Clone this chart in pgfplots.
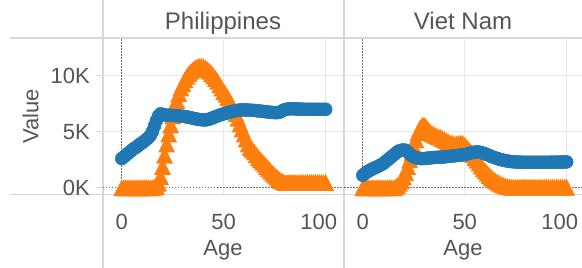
\documentclass[border=0pt]{standalone}
\usepackage{pgfplots}
\pgfplotsset{compat=1.18}
\usepackage{pgfplotstable}
\usepackage{fontspec}
\setmainfont{Liberation Sans}
\definecolor{txt}{RGB}{85,85,85}
\definecolor{frame}{RGB}{215,215,215}
\definecolor{grd}{RGB}{232,232,232}
\definecolor{dotc}{RGB}{110,110,110}
\definecolor{cblue}{RGB}{31,119,180}
\definecolor{corange}{RGB}{255,127,14}
\pgfdeclareplotmark{tri}{%
  \pgfpathmoveto{\pgfqpoint{0pt}{\pgfplotmarksize}}%
  \pgfpathlineto{\pgfqpoint{-\pgfplotmarksize}{-\pgfplotmarksize}}%
  \pgfpathlineto{\pgfqpoint{\pgfplotmarksize}{-\pgfplotmarksize}}%
  \pgfpathclose\pgfusepathqfill}
\newcommand{\fs}{\fontsize{22}{26}\selectfont}
\newcommand{\ft}{\fontsize{24}{28}\selectfont}

\pgfplotstableread{
age o b
0 0 2.6
1 0 2.75
2 0 2.9
3 0 3.05
4 0 3.2
5 0 3.35
6 0 3.5
7 0 3.6
8 0 3.75
9 0 3.9
10 0 4.0
11 0 4.15
12 0 4.3
13 0 4.45
14 0 4.65
15 0 5.0
16 0.05 5.5
17 0.1 6.0
18 0.4 6.4
19 1.0 6.6
20 1.9 6.55
21 2.9 6.5
22 3.9 6.48
23 4.8 6.47
24 5.6 6.46
25 6.4 6.45
26 7.1 6.44
27 7.8 6.43
28 8.4 6.42
29 8.9 6.4
30 9.3 6.38
31 9.65 6.35
32 9.95 6.32
33 10.2 6.28
34 10.4 6.24
35 10.55 6.2
36 10.7 6.16
37 10.8 6.12
38 10.85 6.09
39 10.85 6.07
40 10.8 6.05
41 10.7 6.05
42 10.55 6.08
43 10.4 6.13
44 10.2 6.2
45 10.0 6.27
46 9.75 6.34
47 9.5 6.41
48 9.2 6.48
49 8.9 6.54
50 8.6 6.6
51 8.35 6.65
52 8.05 6.7
53 7.75 6.75
54 7.4 6.8
55 7.0 6.84
56 6.6 6.88
57 6.2 6.92
58 5.7 6.94
59 5.25 6.95
60 4.8 6.95
61 4.35 6.94
62 3.9 6.93
63 3.6 6.92
64 3.4 6.91
65 3.2 6.9
66 2.95 6.88
67 2.7 6.86
68 2.5 6.84
69 2.3 6.82
70 2.1 6.8
71 1.9 6.78
72 1.7 6.76
73 1.5 6.74
74 1.3 6.72
75 1.12 6.7
76 0.95 6.7
77 0.8 6.72
78 0.65 6.8
79 0.55 6.9
80 0.47 6.97
81 0.47 7.02
82 0.47 7.05
83 0.47 7.05
84 0.47 7.05
85 0.47 7.04
86 0.47 7.03
87 0.47 7.02
88 0.47 7.02
89 0.47 7.01
90 0.47 7.0
91 0.47 7.0
92 0.47 7.0
93 0.47 7.0
94 0.47 7.0
95 0.47 7.0
96 0.47 7.0
97 0.47 7.0
98 0.47 7.0
99 0.47 7.0
100 0.47 7.0
}\ph

\pgfplotstableread{
age o b
0 0 1.1
1 0 1.25
2 0 1.4
3 0 1.5
4 0 1.6
5 0 1.7
6 0 1.78
7 0 1.86
8 0 1.95
9 0 2.05
10 0 2.15
11 0 2.3
12 0 2.45
13 0 2.6
14 0 2.75
15 0 2.9
16 0.05 3.05
17 0.2 3.2
18 0.4 3.3
19 0.65 3.35
20 0.95 3.37
21 1.35 3.35
22 1.9 3.2
23 2.5 3.0
24 3.1 2.85
25 3.7 2.75
26 4.3 2.68
27 4.9 2.63
28 5.3 2.6
29 5.55 2.6
30 5.6 2.6
31 5.45 2.62
32 5.2 2.64
33 5.0 2.66
34 4.85 2.68
35 4.75 2.7
36 4.65 2.71
37 4.55 2.72
38 4.5 2.73
39 4.4 2.74
40 4.3 2.75
41 4.2 2.77
42 4.1 2.79
43 4.0 2.81
44 3.95 2.83
45 3.9 2.85
46 3.9 2.87
47 3.95 2.89
48 4.0 2.91
49 3.95 2.93
50 3.8 2.95
51 3.6 3.0
52 3.4 3.05
53 3.2 3.1
54 2.95 3.15
55 2.7 3.18
56 2.45 3.2
57 2.2 3.18
58 1.95 3.14
59 1.7 3.08
60 1.5 3.02
61 1.3 2.95
62 1.1 2.88
63 0.92 2.8
64 0.76 2.73
65 0.62 2.66
66 0.5 2.6
67 0.4 2.55
68 0.3 2.5
69 0.22 2.45
70 0.15 2.41
71 0.1 2.38
72 0.07 2.35
73 0.05 2.33
74 0.05 2.31
75 0.05 2.3
76 0.05 2.29
77 0.05 2.28
78 0.05 2.28
79 0.05 2.27
80 0.05 2.27
81 0.05 2.27
82 0.05 2.27
83 0.05 2.27
84 0.05 2.27
85 0.05 2.27
86 0.05 2.27
87 0.05 2.27
88 0.05 2.27
89 0.05 2.27
90 0.05 2.27
91 0.05 2.27
92 0.05 2.28
93 0.05 2.28
94 0.05 2.28
95 0.05 2.28
96 0.05 2.29
97 0.05 2.29
98 0.05 2.29
99 0.05 2.3
100 0.05 2.3
}\vn

\pgfplotsset{
  panel/.style={
    scale only axis, height=156.3pt, anchor=south west,
    xmin=-9.2, ymin=-0.59, ymax=13.37,
    axis line style={draw=none},
    xtick={0,50,100}, ytick={0,5,10},
    xticklabels={0,50,{100\hspace*{14pt}}},
    minor xtick={50,100}, minor ytick={5,10},
    grid=minor, minor grid style={grd, line width=1pt},
    minor tick style={draw=none},
    xtick style={draw=none},
    tick align=outside, major tick length=7pt,
    /pgf/number format/assume math mode=true,
    tick label style={font=\fs, text=txt},
    xticklabel style={anchor=base, yshift=-28pt},
    xlabel={Age},
    every axis x label/.style={at={(axis description cs:0.5,-0.3884)}, anchor=base, font=\fs, text=txt},
    clip=true,
  },
}

\begin{document}
\begin{tikzpicture}
\useasboundingbox (0pt,0pt) rectangle (582pt,268pt);
\draw[frame, line width=1.2pt] (103pt,0pt) -- (103pt,268pt);
\draw[frame, line width=1.2pt] (344pt,0pt) -- (344pt,268pt);
\draw[frame, line width=1.2pt] (10pt,230pt) -- (582pt,230pt);
\draw[frame, line width=1.2pt] (10pt,73.7pt) -- (582pt,73.7pt);

\begin{axis}[panel, at={(103pt,73.7pt)}, width=240pt, xmax=108.5,
  yticklabels={0K,5K,10K}, ytick pos=left,
  ytick style={draw=frame, line width=1pt},
  yticklabel style={anchor=base east, inner sep=0pt, yshift=-7.9pt, xshift=-6pt},
  ylabel={Value},
  every axis y label/.style={at={(axis description cs:-0.2696,0.5)}, rotate=90, anchor=base, font=\fs, text=txt},
]
\draw[dotc, line width=0.9pt, dash pattern=on 1.5pt off 1.5pt] (axis cs:0,0) -- (axis cs:0,13.37);
\draw[dotc, line width=0.9pt, dash pattern=on 1.5pt off 1.5pt] (axis cs:-9.2,0) -- (axis cs:108.5,0);
\addplot[only marks, mark=tri, mark size=8.4pt, color=corange] table[x=age, y=o] {\ph};
\addplot[only marks, mark=*, mark size=6.5pt, color=cblue, mark options={draw=none, fill=cblue}] table[x=age, y=b] {\ph};
\end{axis}

\begin{axis}[panel, at={(344pt,73.7pt)}, width=238pt, xmax=107.5,
  yticklabels={}, ytick style={draw=none},
]
\draw[dotc, line width=0.9pt, dash pattern=on 1.5pt off 1.5pt] (axis cs:0,0) -- (axis cs:0,13.37);
\draw[dotc, line width=0.9pt, dash pattern=on 1.5pt off 1.5pt] (axis cs:-9.2,0) -- (axis cs:107.5,0);
\addplot[only marks, mark=tri, mark size=8.4pt, color=corange] table[x=age, y=o] {\vn};
\addplot[only marks, mark=*, mark size=6.5pt, color=cblue, mark options={draw=none, fill=cblue}] table[x=age, y=b] {\vn};
\end{axis}

\node[font=\ft, text=txt, anchor=base] at (223pt,238pt) {Philippines};
\node[font=\ft, text=txt, anchor=base] at (463pt,238pt) {Viet Nam};
\end{tikzpicture}
\end{document}
